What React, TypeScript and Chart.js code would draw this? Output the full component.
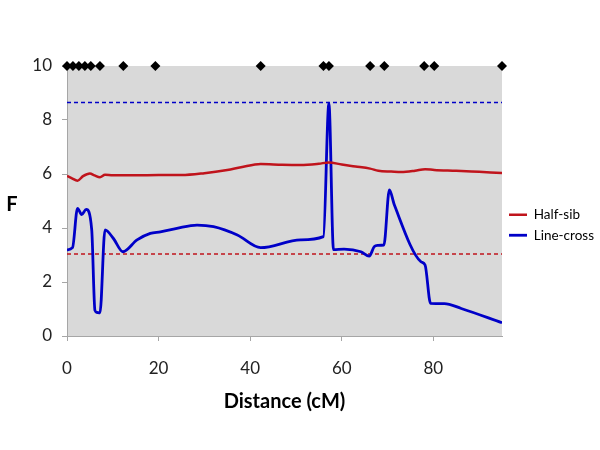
import React, { useEffect, useRef } from "react";
import { Chart, registerables } from "chart.js";

Chart.register(...registerables);

// Half-sib F profile
const halfSibX = [0, 1, 2.3, 3.5, 5, 6, 7.2, 8.3, 10, 15, 20, 25, 30, 35, 38, 42.3, 47, 51, 55, 57.2, 60, 63, 66.2, 68, 70.8, 73, 76, 78.2, 80.2, 85, 90, 95];
const halfSibY = [5.93, 5.85, 5.75, 5.92, 6.02, 5.95, 5.88, 5.97, 5.95, 5.95, 5.96, 5.96, 6.03, 6.15, 6.25, 6.37, 6.34, 6.33, 6.38, 6.43, 6.35, 6.28, 6.2, 6.12, 6.09, 6.07, 6.12, 6.18, 6.15, 6.12, 6.08, 6.04];

// Line-cross F profile
const lineCrossX = [0, 1.2, 2.3, 3.2, 4.2, 5.4, 6.1, 6.6, 7.2, 8.3, 10.1, 12.2, 15.3, 18.2, 20.4, 24, 28.4, 32, 37.2, 42.3, 51, 56, 57.2, 58.2, 60.5, 64.2, 66, 67.1, 67.8, 69.2, 70.4, 71.5, 77.3, 78.2, 79.4, 82.4, 86.1, 95];
const lineCrossY = [3.19, 3.27, 4.73, 4.5, 4.69, 3.93, 0.95, 0.87, 0.86, 3.93, 3.62, 3.12, 3.56, 3.8, 3.86, 3.99, 4.11, 4.05, 3.74, 3.27, 3.56, 3.68, 8.62, 3.2, 3.22, 3.12, 2.96, 3.31, 3.36, 3.37, 5.41, 4.85, 2.75, 2.63, 1.21, 1.2, 1.02, 0.49];

// Thresholds
const halfSibThreshold = 3.04;
const lineCrossThreshold = 8.65;

// Marker positions (cM) plotted at F = 10
const markerX = [0, 1.3, 2.6, 3.9, 5.2, 7.2, 12.3, 19.3, 42.3, 56, 57.2, 66.2, 69.3, 78, 80.2, 95];
const markerLevel = 10;

const xTicks = [0, 20, 40, 60, 80];
const xMin = 0;
const xMax = 95;
const yMin = 0;
const yMax = 10;
const yTitle = "F";
const xTitle = "Distance (cM)";

const RED = "#c0141c";
const BLUE = "#0000c8";
const FONT = "Lato, 'Open Sans', sans-serif";

const bgPlugin = {
  id: "plotBg",
  beforeDraw(chart: any) {
    const { ctx, chartArea } = chart;
    if (!chartArea) return;
    ctx.save();
    ctx.fillStyle = "#d9d9d9";
    ctx.fillRect(chartArea.left, chartArea.top, chartArea.right - chartArea.left, chartArea.bottom - chartArea.top);
    ctx.restore();
  },
};

// Upright y-axis title (the library rotates left-axis titles)
const yTitlePlugin = {
  id: "uprightYTitle",
  afterDraw(chart: any) {
    const { ctx, chartArea } = chart;
    ctx.save();
    ctx.font = `bold 20px ${FONT}`;
    ctx.fillStyle = "#000";
    ctx.textAlign = "center";
    ctx.textBaseline = "middle";
    ctx.fillText(yTitle, 12, (chartArea.top + chartArea.bottom) / 2 + 4);
    ctx.restore();
  },
};

export default function App() {
  const ref = useRef<HTMLCanvasElement>(null);

  useEffect(() => {
    if (!ref.current) return;
    const zip = (xs: number[], ys: number[]) => xs.map((x, i) => ({ x, y: ys[i] }));
    const chart = new Chart(ref.current, {
      type: "scatter",
      data: {
        datasets: [
          {
            label: "Half-sib",
            data: zip(halfSibX, halfSibY),
            showLine: true,
            borderColor: RED,
            backgroundColor: RED,
            borderWidth: 2.5,
            pointRadius: 0,
            cubicInterpolationMode: "monotone",
          },
          {
            label: "Line-cross",
            data: zip(lineCrossX, lineCrossY),
            showLine: true,
            borderColor: BLUE,
            backgroundColor: BLUE,
            borderWidth: 2.8,
            pointRadius: 0,
            cubicInterpolationMode: "monotone",
          },
          {
            label: "hsThreshold",
            data: [{ x: xMin, y: halfSibThreshold }, { x: xMax, y: halfSibThreshold }],
            showLine: true,
            borderColor: RED,
            borderWidth: 1.5,
            borderDash: [4, 3],
            pointRadius: 0,
          },
          {
            label: "lcThreshold",
            data: [{ x: xMin, y: lineCrossThreshold }, { x: xMax, y: lineCrossThreshold }],
            showLine: true,
            borderColor: BLUE,
            borderWidth: 1.5,
            borderDash: [4, 3],
            pointRadius: 0,
          },
          {
            label: "markers",
            data: markerX.map((x) => ({ x, y: markerLevel })),
            showLine: false,
            pointStyle: "rectRot",
            pointRadius: 5,
            pointBackgroundColor: "#000",
            pointBorderColor: "#000",
            pointBorderWidth: 0,
            clip: false as any,
          },
        ],
      },
      options: {
        responsive: false,
        animation: false,
        layout: { padding: 0 },
        plugins: {
          tooltip: { enabled: false },
          legend: {
            position: "right",
            maxWidth: 98,
            labels: {
              filter: (item: any) => item.text === "Half-sib" || item.text === "Line-cross",
              usePointStyle: true,
              pointStyle: "line",
              pointStyleWidth: 18,
              padding: 7,
              color: "#000",
              font: { family: FONT, size: 13.5, lineHeight: 1.4 },
            },
          },
        },
        scales: {
          xTop: {
            type: "linear",
            position: "top",
            display: true,
            min: xMin,
            max: xMax,
            grid: { display: false },
            border: { display: false },
            ticks: { display: false },
            afterFit: (s: any) => {
              s.height = 66;
            },
          },
          x: {
            type: "linear",
            position: "bottom",
            min: xMin,
            max: xMax,
            afterBuildTicks: (s: any) => {
              s.ticks = xTicks.map((v) => ({ value: v }));
            },
            afterFit: (s: any) => {
              s.height = 114;
            },
            grid: { drawOnChartArea: false, drawTicks: true, tickLength: 5, color: "#a6a6a6" },
            border: { display: true, color: "#a6a6a6", width: 1 },
            ticks: { color: "#222", padding: 17, font: { family: FONT, size: 17 } },
            title: {
              display: true,
              text: xTitle,
              color: "#000",
              font: { family: FONT, size: 20, weight: "bold" },
              padding: { top: 0, bottom: 36 },
            },
          },
          y: {
            type: "linear",
            min: yMin,
            max: yMax,
            afterFit: (s: any) => {
              s.width = 67;
            },
            grid: { drawOnChartArea: false, drawTicks: true, tickLength: 5, color: "#a6a6a6" },
            border: { display: true, color: "#a6a6a6", width: 1 },
            ticks: { stepSize: 2, color: "#222", padding: 10, font: { family: FONT, size: 17 } },
            title: { display: false },
          },
        },
      },
      plugins: [bgPlugin, yTitlePlugin],
    });
    return () => chart.destroy();
  }, []);

  return (
    <div style={{ position: "absolute", left: 0, top: 0, width: 600, height: 450, background: "#fff" }}>
      <canvas ref={ref} width={600} height={450} />
    </div>
  );
}
